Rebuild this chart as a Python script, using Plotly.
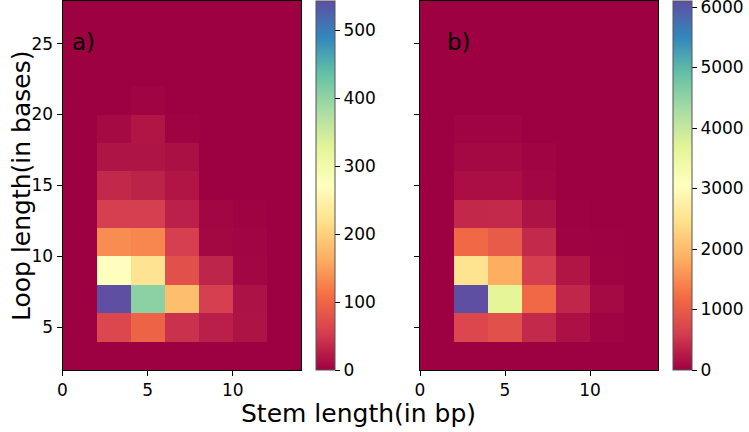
import plotly.graph_objects as go

# bin centers
stem_centers = [1, 3, 5, 7, 9, 11, 13]
loop_centers = [3, 5, 7, 9, 11, 13, 15, 17, 19, 21, 23, 25, 27]

# panel a counts (rows = loop bins from bottom)
counts_a = [
    [0, 0, 0, 0, 0, 0, 0],
    [0, 65, 97, 43, 27, 16, 0],
    [0, 543, 405, 180, 55, 15, 0],
    [0, 270, 225, 75, 32, 5, 0],
    [0, 135, 130, 55, 6, 4, 0],
    [0, 55, 55, 28, 5, 2, 0],
    [0, 35, 30, 18, 0, 0, 0],
    [0, 17, 17, 13, 0, 0, 0],
    [0, 8, 18, 2, 0, 0, 0],
    [0, 0, 3, 0, 0, 0, 0],
    [0, 0, 0, 0, 0, 0, 0],
    [0, 0, 0, 0, 0, 0, 0],
    [0, 0, 0, 0, 0, 0, 0],
]

# panel b counts
counts_b = [
    [0, 0, 0, 0, 0, 0, 0],
    [0, 730, 850, 400, 150, 30, 0],
    [0, 6100, 3660, 1170, 370, 90, 0],
    [0, 2500, 1830, 610, 200, 15, 0],
    [0, 1170, 980, 400, 20, 5, 0],
    [0, 390, 400, 180, 5, 0, 0],
    [0, 130, 130, 60, 0, 0, 0],
    [0, 75, 75, 30, 0, 0, 0],
    [0, 30, 30, 0, 0, 0, 0],
    [0, 0, 0, 0, 0, 0, 0],
    [0, 0, 0, 0, 0, 0, 0],
    [0, 0, 0, 0, 0, 0, 0],
    [0, 0, 0, 0, 0, 0, 0],
]

ticks_a = [0, 100, 200, 300, 400, 500]
ticks_b = [0, 1000, 2000, 3000, 4000, 5000, 6000]
stem_ticks = [0, 5, 10]
loop_ticks = [5, 10, 15, 20, 25]

spectral = ["#9e0142", "#d53e4f", "#f46d43", "#fdae61", "#fee08b", "#ffffbf",
            "#e6f598", "#abdda4", "#66c2a5", "#3288bd", "#5e4fa2"]
cscale = [[i / 10, c] for i, c in enumerate(spectral)]

W, H = 749, 432
ML, MR, MT, MB = 0, 60, 0, 0
PW, PH = W - ML - MR, H - MT - MB
FONT = "DejaVu Sans"


def px_x(p):
    return (p - ML) / PW


def px_y(p):
    return 1 - (p - MT) / PH


top, bottom = 1, 370
fig = go.Figure()

cb_common = dict(thickness=19, lenmode="pixels", len=bottom - top,
                 y=px_y(top), yanchor="top", xanchor="left",
                 xpad=0, ypad=0, ticklabeloverflow="allow",
                 outlinewidth=1, outlinecolor="#555555",
                 ticks="outside", ticklen=5, tickcolor="black",
                 tickfont=dict(family=FONT, size=17, color="black"))

fig.add_trace(go.Heatmap(x=stem_centers, y=loop_centers, z=counts_a,
                         colorscale=cscale, zmin=0, zmax=543,
                         xaxis="x", yaxis="y",
                         colorbar=dict(x=px_x(315.7), tickvals=ticks_a, **cb_common)))
fig.add_trace(go.Heatmap(x=stem_centers, y=loop_centers, z=counts_b,
                         colorscale=cscale, zmin=0, zmax=6100,
                         xaxis="x2", yaxis="y2",
                         colorbar=dict(x=px_x(672.7), tickvals=ticks_b, **cb_common)))

ax_common = dict(showgrid=False, zeroline=False, showline=True, linecolor="black",
                 linewidth=1, mirror=True, ticks="outside", ticklen=5, tickcolor="black",
                 automargin=False,
                 tickfont=dict(family=FONT, size=17, color="black"))

fig.update_layout(
    width=W, height=H,
    margin=dict(l=ML, r=MR, t=MT, b=MB),
    paper_bgcolor="white", plot_bgcolor="white",
    xaxis=dict(domain=[px_x(62.5), px_x(301)], range=[0, 14], tickvals=stem_ticks, anchor="y", **ax_common),
    yaxis=dict(domain=[px_y(bottom), px_y(top)], range=[2, 28], tickvals=loop_ticks, anchor="x", **ax_common),
    xaxis2=dict(domain=[px_x(420), px_x(658)], range=[0, 14], tickvals=stem_ticks, anchor="y2", **ax_common),
    yaxis2=dict(domain=[px_y(bottom), px_y(top)], range=[2, 28], tickvals=loop_ticks,
                showticklabels=False, anchor="x2", **ax_common),
    annotations=[
        dict(text="a)", x=px_x(70), y=px_y(42), xref="paper", yref="paper", xanchor="left",
             yanchor="middle", showarrow=False, font=dict(family=FONT, size=23, color="black")),
        dict(text="b)", x=px_x(445), y=px_y(42), xref="paper", yref="paper", xanchor="left",
             yanchor="middle", showarrow=False, font=dict(family=FONT, size=23, color="black")),
        dict(text="Stem length(in bp)", x=px_x(358), y=px_y(413), xref="paper", yref="paper",
             xanchor="center", yanchor="middle", showarrow=False,
             font=dict(family=FONT, size=25, color="black")),
        dict(text="Loop length(in bases)", x=px_x(21), y=px_y(186), xref="paper", yref="paper",
             xanchor="center", yanchor="middle", showarrow=False, textangle=-90,
             font=dict(family=FONT, size=25, color="black")),
    ],
)

fig.write_html("out.html", config={"displayModeBar": False},
               post_script="document.body.style.margin='0';document.body.style.overflow='hidden';")
